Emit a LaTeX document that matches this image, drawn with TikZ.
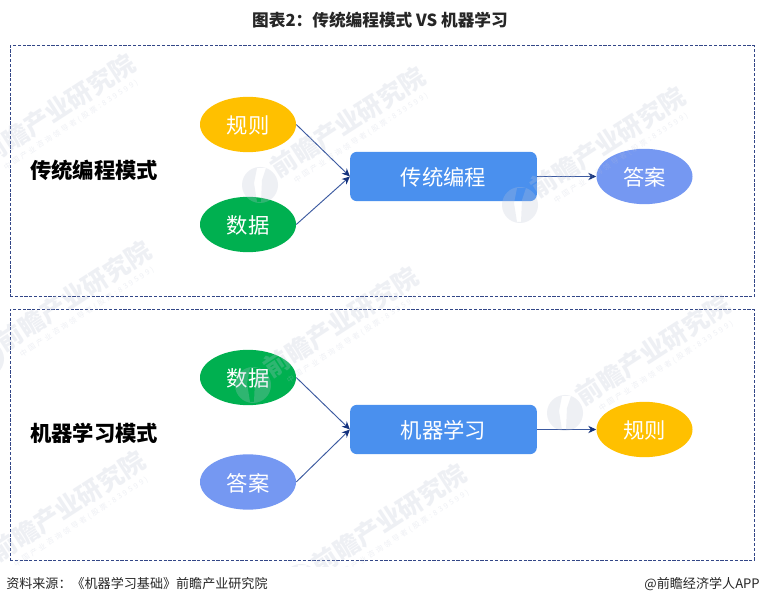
\documentclass[tikz,border=0pt]{standalone}
\usepackage{fontspec}
\setmainfont{Noto Sans CJK SC}
\usetikzlibrary{arrows.meta,shapes.geometric}
\definecolor{ruleyellow}{RGB}{255,192,0}
\definecolor{datagreen}{RGB}{0,176,80}
\definecolor{answerblue}{RGB}{117,152,242}
\definecolor{boxblue}{RGB}{74,144,238}
\definecolor{framenavy}{RGB}{50,70,135}
\definecolor{arrownavy}{RGB}{60,90,160}
\definecolor{tipnavy}{RGB}{20,50,125}
\definecolor{markgray}{RGB}{190,197,215}
\tikzset{
    oval/.style={ellipse, minimum width=72pt, minimum height=41.5pt, inner sep=0pt, text=white, text depth=0pt, font=\fontsize{16}{18}\selectfont},
    prog/.style={draw=none, fill=boxblue, rounded corners=5pt, minimum width=140pt, minimum height=37pt, inner sep=0pt, text=white, text depth=0pt, font=\fontsize{16}{18}\selectfont},
    dashframe/.style={draw=framenavy, dash pattern=on 2.4pt off 1.2pt, line width=0.75pt, minimum width=558pt, minimum height=188.25pt, inner sep=0pt},
    side/.style={font=\fontsize{16}{18}\selectfont\bfseries, text=black},
    link/.style={draw=arrownavy, line width=0.7pt, -{Stealth[length=6pt,width=5.5pt,color=tipnavy]}},
    foot/.style={font=\fontsize{9.8}{12}\selectfont, text=black!85, inner sep=0pt},
    wmark/.style={rotate=33, text=markgray, opacity=0.25, inner sep=0pt, font=\fontsize{19}{21}\selectfont\bfseries},
    wsub/.style={rotate=33, text=markgray, opacity=0.25, inner sep=0pt, font=\fontsize{5.5}{7}\selectfont\addfontfeature{LetterSpace=33}}
}
\begin{document}
\begin{tikzpicture}[x=0.75pt,y=-0.75pt]
    \useasboundingbox[fill=white] (0,0) rectangle (760,605);

    % Title
    \node[font=\fontsize{12.5}{14}\selectfont\bfseries, text=black!85] (title) at (380,20) {图表2：传统编程模式 VS 机器学习};

    % Traditional programming
    \node[dashframe] (frameA) at (382,171.5) {};
    \node[side] (sideA) at (94,170) {传统编程模式};
    \node[oval, fill=ruleyellow] (ruleA) at (248,124.5) {规则};
    \node[oval, fill=datagreen] (dataA) at (248,224.5) {数据};
    \node[prog] (progA) at (443.5,176.5) {传统编程};
    \node[oval, fill=answerblue] (answerA) at (644.5,176.5) {答案};
    \draw[link] (ruleA.east) -- (progA.west);
    \draw[link] (dataA.east) -- (progA.west);
    \draw[link] (progA.east) -- (answerA.west);

    % Machine learning
    \node[dashframe] (frameB) at (382,435) {};
    \node[side] (sideB) at (94,433) {机器学习模式};
    \node[oval, fill=datagreen] (dataB) at (248,377.5) {数据};
    \node[oval, fill=answerblue] (answerB) at (248,482) {答案};
    \node[prog] (progB) at (443.5,429.5) {机器学习};
    \node[oval, fill=ruleyellow] (ruleB) at (644.5,429.5) {规则};
    \draw[link] (dataB.east) -- (progB.west);
    \draw[link] (answerB.east) -- (progB.west);
    \draw[link] (progB.east) -- (ruleB.west);

    % Footer
    \node[foot, anchor=west] (source) at (6,584) {资料来源：《机器学习基础》前瞻产业研究院};
    \node[foot, anchor=east] (brand) at (760,584) {@前瞻经济学人APP};

    % Watermarks
    \begin{scope}
        \clip (0,0) rectangle (760,566);
        \foreach \mk/\mx/\my in {A/-30/172, B/260/185, C/520/205, D/-14/359, E/253/385, F/565/413, G/-20/569, H/301/582} {
            \fill[markgray, opacity=0.25, even odd rule] (\mx,\my) circle (18)
                (\mx-3,\my-17) -- (\mx+6,\my-17) -- (\mx+2,\my-5) -- (\mx+1,\my+17) -- (\mx-3,\my+17) -- (\mx-6,\my-2) -- cycle;
            \node[wmark] (mark\mk) at (\mx+88,\my-63) {前瞻产业研究院};
            \node[wsub] (sub\mk) at (\mx+101,\my-47) {中国产业咨询领导者(股票:839599)};
        }
    \end{scope}
\end{tikzpicture}
\end{document}
